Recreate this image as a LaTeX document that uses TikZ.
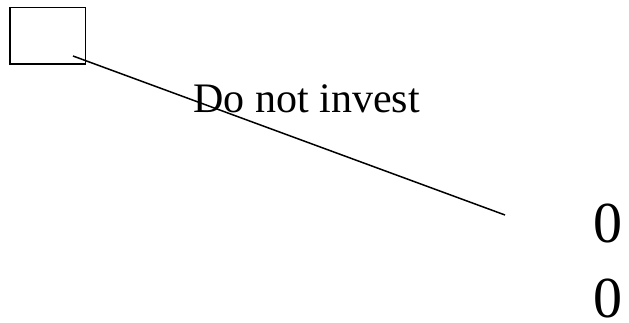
\documentclass[tikz,border=0pt]{standalone}
\usepackage{fontspec}
\setmainfont{Liberation Serif}
\usetikzlibrary{positioning}
\begin{document}
\begin{tikzpicture}[x=1pt, y=-1pt,
    decision/.style={draw, line width=1.5pt, minimum width=75.5pt, minimum height=56.5pt, inner sep=0pt},
    branch/.style={line width=1.5pt},
    label/.style={font=\fontsize{42}{42}\selectfont, inner sep=0pt, anchor=base},
    payoff/.style={font=\fontsize{58}{58}\selectfont, inner sep=0pt, anchor=base},
]
    \useasboundingbox (0,0) rectangle (629,323);
    \node[decision] (choice) at (47.5,36) {};
    \coordinate (start) at (73,56);
    \coordinate (tip) at (505,215);
    \draw[branch] (start) -- (tip);

    \node[label] (noinvest) at (306.5,113) {Do not invest};

    \node[payoff] (payA) at (607.5,242) {0};
    \node[payoff] (payB) at (607.5,317) {0};
\end{tikzpicture}
\end{document}
